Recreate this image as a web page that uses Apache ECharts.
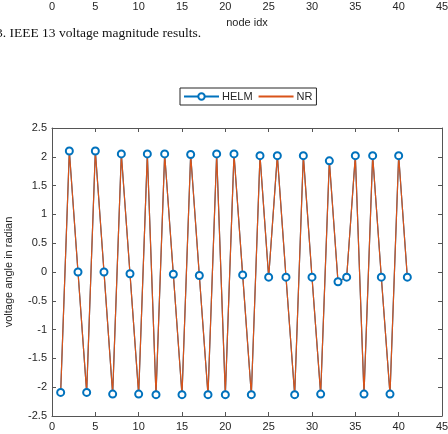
<!DOCTYPE html>
<html lang="en" style="height: 100%">
<head>
    <meta charset="UTF-8">
    <title>voltage angle</title>
    <script src="https://cdn.jsdelivr.net/npm/echarts@6/dist/echarts.min.js"></script>
</head>
<body style="height: 100%; margin: 0; background: #fff">
<div id="container" style="width: 448px; height: 434px"></div>
<script type="text/javascript">
    var nodeIdx = [1, 2, 3, 4, 5, 6, 7, 8, 9, 10, 11, 12, 13, 14, 15, 16, 17, 18, 19, 20, 21,
        22, 23, 24, 25, 26, 27, 28, 29, 30, 31, 32, 33, 34, 35, 36, 37, 38, 39, 40, 41];
    // voltage angle per node (rad)
    var helmAngle = [-2.09, 2.10, 0.00, -2.09, 2.10, 0.00, -2.12, 2.05, -0.03, -2.12, 2.05,
        -2.13, 2.05, -0.04, -2.13, 2.04, -0.06, -2.13, 2.05, -2.13, 2.05,
        -0.05, -2.13, 2.02, -0.09, 2.02, -0.09, -2.13, 2.02, -0.09, -2.12,
        1.93, -0.17, -0.09, 2.02, -2.12, 2.02, -0.09, -2.12, 2.02, -0.09];
    var nrAngle = [-2.09, 2.10, 0.00, -2.09, 2.10, 0.00, -2.12, 2.05, -0.03, -2.12, 2.05,
        -2.13, 2.05, -0.04, -2.13, 2.04, -0.06, -2.13, 2.05, -2.13, 2.05,
        -0.05, -2.13, 2.02, -0.09, 2.02, -0.09, -2.13, 2.02, -0.09, -2.12,
        1.93, -0.17, -0.09, 2.02, -2.12, 2.02, -0.09, -2.12, 2.02, -0.09];

    function pairs(vals) {
        return nodeIdx.map(function (x, i) { return [x, vals[i]]; });
    }

    var axisColor = '#555';
    var textColor = '#262626';
    var font = 'Liberation Sans';

    var myChart = echarts.init(document.getElementById('container'));

    var frameAxis = {
        axisLine: {show: true, onZero: false, lineStyle: {color: axisColor}},
        axisTick: {show: true, inside: true, length: 4, lineStyle: {color: axisColor}},
        splitLine: {show: false}
    };

    var option = {
        animation: false,
        textStyle: {fontFamily: font},
        graphic: [{
            type: 'text',
            x: -4,
            y: 33,
            style: {
                text: '3. IEEE 13 voltage magnitude results.',
                font: '13.5px "Liberation Serif"',
                fill: '#111',
                textVerticalAlign: 'middle'
            }
        }],
        legend: {
            left: 180,
            top: 88,
            padding: [3, 4, 3, 3],
            itemWidth: 35,
            itemHeight: 8,
            itemGap: 5,
            borderColor: '#262626',
            borderWidth: 1,
            backgroundColor: '#fff',
            textStyle: {fontSize: 11, color: textColor, fontFamily: font, padding: [0, 0, 0, -2]},
            data: ['HELM', {name: 'NR', itemStyle: {opacity: 0}}]
        },
        grid: [
            {left: 52, right: 6, top: 128, bottom: 18, outerBoundsMode: 'none'},
            {left: 52, right: 6, top: -20, height: 20, outerBoundsMode: 'none'}
        ],
        xAxis: [Object.assign({
            type: 'value', gridIndex: 0, min: 0, max: 45, interval: 5,
            axisLabel: {fontSize: 11, color: textColor, margin: 5}
        }, frameAxis), Object.assign({
            type: 'value', gridIndex: 0, position: 'top', min: 0, max: 45, interval: 5,
            axisLabel: {show: false}
        }, frameAxis), {
            type: 'value', gridIndex: 1, min: 0, max: 45, interval: 5,
            name: 'node idx', nameLocation: 'middle', nameGap: 17,
            nameTextStyle: {fontSize: 11, color: textColor},
            axisLine: {show: false},
            axisTick: {show: false},
            axisLabel: {fontSize: 11, color: textColor, margin: 1},
            splitLine: {show: false}
        }],
        yAxis: [Object.assign({
            type: 'value', gridIndex: 0, min: -2.5, max: 2.5, interval: 0.5,
            name: 'voltage angle in radian', nameLocation: 'middle', nameGap: 38,
            nameTextStyle: {fontSize: 11, color: textColor},
            axisLabel: {fontSize: 11, color: textColor, margin: 5}
        }, frameAxis), Object.assign({
            type: 'value', gridIndex: 0, position: 'right', min: -2.5, max: 2.5, interval: 0.5,
            axisLabel: {show: false}
        }, frameAxis), {
            type: 'value', gridIndex: 1, show: false
        }],
        series: [{
            name: 'HELM',
            type: 'line',
            xAxisIndex: 0,
            yAxisIndex: 0,
            data: pairs(helmAngle),
            symbol: 'emptyCircle',
            symbolSize: 7,
            showAllSymbol: true,
            itemStyle: {color: '#0072BD', borderWidth: 1.1},
            lineStyle: {color: '#0072BD', width: 1.2}
        }, {
            name: 'NR',
            type: 'line',
            xAxisIndex: 0,
            yAxisIndex: 0,
            data: pairs(nrAngle),
            symbol: 'none',
            itemStyle: {color: '#D95319'},
            lineStyle: {color: '#D95319', width: 1.2}
        }]
    };

    myChart.setOption(option);
</script>
</body>
</html>
